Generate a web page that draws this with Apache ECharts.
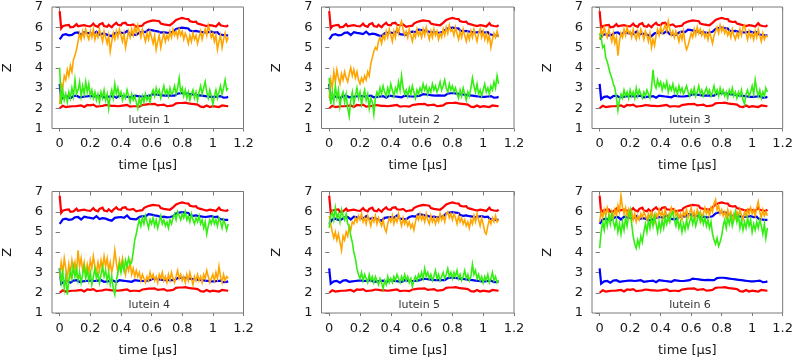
<!DOCTYPE html>
<html>
<head>
<meta charset="utf-8">
<script src="https://cdn.jsdelivr.net/npm/echarts@6/dist/echarts.min.js"></script>
<style>
  html, body { margin: 0; padding: 0; background: #fff; }
  #chart { width: 796px; height: 360px; }
</style>
</head>
<body>
<div id="chart"></div>
<script>
// sampling step of every trace (µs)
const dt = 0.01;
const xTicks = [0, 0.2, 0.4, 0.6, 0.8, 1, 1.2];
const panelNames = ['lutein 1', 'lutein 2', 'lutein 3', 'lutein 4', 'lutein 5', 'lutein 6'];

// reference lines, same in every panel
const redTop = [
  6.8, 5.95, 6.05, 6.0, 6.1, 6.05, 6.12, 6.0, 6.08, 6.02,
  6.1, 6.15, 6.05, 6.12, 6.08, 6.0, 6.1, 6.14, 6.06, 6.1,
  6.04, 6.12, 6.18, 6.08, 6.1, 6.02, 6.14, 6.08, 6.2, 6.06,
  6.1, 6.02, 6.12, 6.06, 6.0, 6.1, 6.16, 6.22, 6.12, 6.18,
  6.1, 6.2, 6.14, 6.22, 6.12, 6.18, 6.1, 6.06, 6.14, 6.08,
  6.02, 6.1, 6.06, 6.14, 6.08, 6.18, 6.22, 6.26, 6.2, 6.3,
  6.26, 6.34, 6.28, 6.32, 6.24, 6.3, 6.18, 6.22, 6.14, 6.2,
  6.12, 6.18, 6.1, 6.16, 6.22, 6.28, 6.36, 6.3, 6.42, 6.36,
  6.46, 6.38, 6.42, 6.34, 6.4, 6.3, 6.36, 6.26, 6.2, 6.28,
  6.18, 6.24, 6.14, 6.2, 6.1, 6.16, 6.06, 6.14, 6.1, 6.18,
  6.08, 6.14, 6.04, 6.12, 6.2, 6.1, 6.16, 6.06, 6.12, 6.04, 6.1
];
const blueTop = [
  5.4, 5.5, 5.62, 5.7, 5.66, 5.72, 5.6, 5.54, 5.62, 5.68,
  5.72, 5.66, 5.74, 5.68, 5.62, 5.7, 5.76, 5.68, 5.72, 5.64,
  5.7, 5.74, 5.66, 5.72, 5.78, 5.7, 5.64, 5.72, 5.68, 5.74,
  5.66, 5.7, 5.6, 5.64, 5.56, 5.62, 5.7, 5.76, 5.72, 5.8,
  5.74, 5.78, 5.7, 5.76, 5.82, 5.74, 5.66, 5.6, 5.64, 5.58,
  5.62, 5.68, 5.74, 5.7, 5.78, 5.82, 5.76, 5.84, 5.88, 5.8,
  5.86, 5.9, 5.82, 5.88, 5.8, 5.84, 5.74, 5.7, 5.76, 5.68,
  5.72, 5.66, 5.74, 5.7, 5.78, 5.86, 5.92, 5.88, 5.96, 5.9,
  5.98, 5.92, 5.96, 5.88, 5.94, 5.84, 5.88, 5.8, 5.76, 5.82,
  5.74, 5.78, 5.7, 5.76, 5.68, 5.74, 5.8, 5.76, 5.84, 5.78,
  5.82, 5.74, 5.7, 5.76, 5.66, 5.7, 5.62, 5.68, 5.6, 5.64, 5.6
];
const redBot = [
  2.0, 2.08, 2.12, 2.1, 2.06, 2.02, 2.08, 2.12, 2.1, 2.14,
  2.1, 2.16, 2.12, 2.08, 2.14, 2.1, 2.06, 2.12, 2.16, 2.1,
  2.14, 2.1, 2.18, 2.12, 2.08, 2.14, 2.1, 2.06, 2.12, 2.1,
  2.16, 2.1, 2.14, 2.08, 2.12, 2.18, 2.12, 2.16, 2.1, 2.14,
  2.12, 2.18, 2.14, 2.1, 2.16, 2.12, 2.08, 2.14, 2.1, 2.06,
  2.1, 2.14, 2.08, 2.12, 2.16, 2.12, 2.18, 2.14, 2.2, 2.16,
  2.2, 2.16, 2.22, 2.18, 2.14, 2.2, 2.16, 2.12, 2.18, 2.14,
  2.1, 2.16, 2.12, 2.18, 2.14, 2.2, 2.24, 2.2, 2.26, 2.22,
  2.26, 2.22, 2.28, 2.2, 2.24, 2.18, 2.22, 2.16, 2.2, 2.14,
  2.18, 2.12, 2.08, 2.12, 2.06, 2.1, 2.14, 2.1, 2.06, 2.12,
  2.1, 2.14, 2.08, 2.12, 2.06, 2.1, 2.14, 2.08, 2.12, 2.06, 2.1
];
const blueBot = [
  3.2, 2.45, 2.5, 2.56, 2.52, 2.58, 2.54, 2.5, 2.56, 2.6,
  2.56, 2.62, 2.58, 2.54, 2.6, 2.56, 2.62, 2.58, 2.64, 2.6,
  2.56, 2.6, 2.64, 2.58, 2.54, 2.6, 2.56, 2.62, 2.58, 2.54,
  2.6, 2.56, 2.62, 2.58, 2.64, 2.6, 2.56, 2.52, 2.58, 2.62,
  2.66, 2.6, 2.64, 2.58, 2.62, 2.56, 2.6, 2.54, 2.58, 2.62,
  2.56, 2.6, 2.54, 2.58, 2.62, 2.58, 2.64, 2.6, 2.66, 2.62,
  2.66, 2.7, 2.64, 2.68, 2.62, 2.66, 2.6, 2.64, 2.58, 2.62,
  2.6, 2.64, 2.58, 2.62, 2.66, 2.62, 2.68, 2.72, 2.68, 2.74,
  2.7, 2.74, 2.68, 2.72, 2.66, 2.7, 2.64, 2.68, 2.62, 2.66,
  2.6, 2.64, 2.58, 2.62, 2.56, 2.6, 2.64, 2.58, 2.62, 2.56,
  2.6, 2.56, 2.62, 2.58, 2.54, 2.6, 2.56, 2.52, 2.58, 2.54, 2.56
];

// lutein end groups, one pair per panel
const orange1 = [
  2.2, 3.2, 3.0, 3.6, 3.4, 3.9, 3.6, 4.1, 3.8, 4.4,
  4.6, 4.9, 5.3, 5.7, 5.4, 5.8, 5.5, 5.9, 5.6, 5.4,
  5.8, 5.5, 5.9, 5.4, 5.7, 5.5, 5.9, 5.6, 5.3, 5.8,
  5.5, 5.2, 5.6, 4.8, 5.3, 5.7, 5.4, 5.8, 5.5, 5.9,
  5.6, 5.3, 5.7, 5.0, 5.4, 5.8, 5.5, 5.9, 5.6, 6.0,
  5.7, 6.1, 5.8, 5.5, 5.9, 5.6, 5.3, 5.7, 5.4, 5.8,
  5.5, 5.2, 5.6, 4.9, 5.3, 5.6, 5.0, 5.4, 5.7, 5.3,
  5.6, 5.4, 5.8, 5.5, 5.9, 5.6, 5.8, 5.5, 5.9, 5.6,
  5.8, 5.4, 5.7, 5.5, 5.2, 5.6, 5.3, 5.7, 5.4, 5.6,
  5.2, 5.5, 5.8, 5.4, 5.7, 5.9, 5.6, 6.1, 5.8, 5.5,
  5.7, 5.3, 5.6, 4.9, 5.3, 5.6, 5.0, 5.4, 5.7, 5.3, 5.5
];
const green1 = [
  4.0, 2.2, 2.9, 2.4, 2.7, 2.3, 2.8, 2.5, 3.0, 2.6,
  3.4, 2.7, 2.9, 3.3, 2.6, 3.1, 2.7, 3.3, 2.8, 3.2,
  2.6, 2.9, 2.5, 2.8, 2.4, 2.7, 2.3, 2.8, 2.5, 2.9,
  2.4, 2.7, 2.0, 2.6, 2.9, 2.5, 3.2, 2.7, 3.0, 2.6,
  2.8, 2.4, 2.7, 2.5, 2.9, 2.6, 2.3, 2.7, 2.4, 2.6,
  2.3, 2.0, 2.5, 2.2, 2.6, 2.3, 2.7, 2.4, 2.6, 2.3,
  2.7, 2.9, 2.6, 3.0, 2.7, 2.9, 2.5, 2.8, 3.1, 2.7,
  2.9, 2.6, 3.0, 2.7, 2.8, 3.1, 2.7, 3.0, 3.5, 2.8,
  3.0, 2.6, 2.9, 2.5, 2.8, 2.4, 2.7, 2.9, 2.5, 2.8,
  2.4, 2.8, 3.1, 2.7, 3.0, 3.3, 2.8, 2.5, 2.9, 2.6,
  2.2, 2.6, 2.9, 2.5, 2.8, 3.1, 2.7, 3.0, 3.4, 2.9, 3.0
];
const orange2 = [
  2.5, 3.4, 3.0, 3.8, 3.3, 3.9, 3.5, 3.2, 3.7, 3.4,
  3.8, 3.5, 3.3, 3.7, 4.0, 3.6, 3.9, 3.5, 3.8, 3.4,
  3.2, 3.5, 3.3, 3.6, 3.4, 3.8, 3.6, 4.2, 4.5, 4.8,
  5.0, 4.9, 5.3, 5.5, 5.2, 5.6, 5.4, 5.8, 5.5, 5.9,
  5.6, 5.3, 5.8, 5.5, 6.0, 5.7, 6.1, 6.3, 5.9, 5.6,
  5.8, 5.5, 5.9, 5.6, 5.3, 5.7, 5.5, 5.9, 5.6, 5.8,
  5.5, 5.9, 5.6, 6.0, 5.7, 5.4, 5.8, 5.5, 5.9, 5.6,
  5.8, 5.4, 5.7, 5.5, 5.9, 5.6, 6.0, 5.7, 6.1, 5.8,
  5.9, 5.6, 6.0, 5.7, 5.4, 5.8, 5.5, 5.9, 5.6, 5.3,
  5.7, 5.4, 5.8, 5.5, 5.9, 5.6, 5.3, 5.7, 5.9, 5.5,
  5.8, 5.4, 5.7, 5.3, 5.6, 5.0, 5.4, 5.7, 5.5, 5.8, 5.5
];
const green2 = [
  3.5, 2.2, 2.8, 2.3, 3.1, 2.5, 2.9, 2.1, 2.6, 2.8,
  2.3, 2.7, 2.0, 1.6, 2.4, 2.8, 2.2, 2.6, 3.0, 2.5,
  2.8, 2.2, 2.6, 2.9, 2.4, 2.7, 2.0, 2.5, 2.3, 1.7,
  2.5, 2.8, 2.6, 3.0, 2.7, 3.1, 2.8, 2.6, 3.0, 2.7,
  3.2, 2.9, 2.6, 3.0, 2.8, 3.3, 2.9, 3.6, 3.0, 2.7,
  2.9, 2.6, 3.0, 2.7, 3.1, 2.8, 2.5, 2.9, 2.7, 3.0,
  2.8, 3.2, 2.9, 3.1, 2.7, 3.0, 2.8, 3.2, 2.9, 3.1,
  2.8, 3.0, 3.3, 2.9, 3.1, 3.4, 3.0, 2.8, 3.2, 2.9,
  3.1, 2.8, 3.0, 2.7, 2.5, 2.9, 2.6, 3.0, 2.7, 2.4,
  2.8, 2.6, 3.0, 3.5, 3.1, 2.8, 3.2, 2.7, 2.9, 2.6,
  2.9, 3.2, 2.8, 3.0, 2.7, 3.1, 2.9, 3.3, 3.0, 3.6, 3.2
];
const orange3 = [
  5.4, 5.9, 5.6, 6.0, 5.7, 5.5, 5.9, 5.6, 5.3, 5.7,
  5.2, 5.5, 4.6, 5.3, 5.7, 5.5, 5.9, 5.6, 6.0, 5.7,
  5.8, 5.5, 5.9, 5.6, 5.4, 5.8, 5.5, 5.9, 5.7, 5.4,
  5.8, 5.6, 5.3, 5.7, 5.0, 5.4, 5.1, 5.6, 5.9, 5.6,
  6.0, 5.7, 5.9, 6.1, 5.8, 6.3, 5.9, 5.6, 5.8, 5.5,
  5.8, 5.6, 5.3, 5.7, 5.4, 5.8, 5.2, 4.9, 5.1, 5.4,
  5.7, 5.5, 5.9, 5.6, 6.0, 5.7, 5.9, 5.6, 5.8, 5.5,
  5.7, 5.4, 5.8, 5.5, 5.2, 5.6, 5.8, 6.0, 5.7, 6.1,
  5.8, 6.0, 5.7, 5.9, 5.6, 5.8, 5.5, 5.9, 5.6, 5.4,
  5.7, 5.5, 5.9, 5.6, 6.0, 6.1, 5.7, 5.4, 5.8, 5.5,
  5.7, 5.4, 5.8, 5.5, 5.9, 5.6, 5.3, 5.7, 5.4, 5.6, 5.5
];
const green3 = [
  5.7, 5.5, 5.0, 5.1, 4.5, 4.3, 4.0, 3.7, 3.5, 3.2,
  3.0, 2.5, 1.9, 2.4, 2.7, 2.5, 2.9, 2.6, 2.8, 2.5,
  2.9, 2.6, 2.8, 2.5, 3.0, 2.6, 2.9, 2.7, 2.5, 2.8,
  2.6, 2.9, 2.7, 2.5, 3.0, 3.9, 3.2, 3.0, 3.4, 3.1,
  3.3, 2.9, 3.2, 3.0, 3.3, 2.8, 3.1, 2.9, 3.2, 2.8,
  3.0, 2.7, 3.1, 2.8, 3.0, 2.7, 2.9, 3.1, 2.8, 2.6,
  2.9, 2.7, 3.0, 2.6, 2.8, 3.1, 2.7, 2.9, 2.6, 2.8,
  3.0, 2.7, 2.9, 2.6, 2.8, 3.1, 2.7, 2.9, 2.6, 3.0,
  2.7, 2.9, 2.6, 2.8, 2.5, 2.9, 2.7, 3.0, 2.6, 2.8,
  2.5, 2.8, 2.6, 2.9, 2.4, 2.2, 2.7, 2.9, 2.6, 2.8,
  3.1, 2.7, 3.4, 2.9, 2.6, 2.9, 2.5, 2.8, 2.6, 3.0, 2.8
];
const orange4 = [
  2.8, 3.5, 3.0, 3.7, 3.2, 2.7, 3.4, 2.9, 3.6, 3.1,
  3.5, 3.0, 4.1, 3.3, 3.7, 3.1, 3.5, 2.9, 3.4, 3.0,
  3.6, 3.2, 3.8, 3.3, 3.0, 3.5, 3.1, 3.6, 3.2, 3.8,
  3.3, 3.7, 3.1, 3.5, 3.0, 3.4, 4.1, 3.5, 3.0, 3.6,
  3.2, 3.7, 3.3, 2.9, 3.4, 3.1, 3.5, 2.9, 3.2, 2.8,
  3.1, 2.8, 3.0, 2.6, 2.9, 2.7, 2.5, 2.8, 2.6, 3.0,
  2.7, 2.9, 2.6, 2.8, 2.5, 2.9, 2.7, 3.0, 2.6, 2.8,
  2.5, 2.9, 2.6, 3.0, 2.7, 2.5, 2.8, 3.1, 2.7, 2.9,
  2.6, 2.8, 2.5, 2.9, 2.6, 3.0, 2.7, 2.4, 2.8, 2.6,
  2.9, 2.6, 2.8, 2.5, 2.9, 2.7, 3.1, 2.8, 2.5, 2.7,
  2.9, 2.6, 3.0, 2.7, 3.3, 2.8, 2.5, 2.9, 2.6, 2.8, 2.7
];
const green4 = [
  3.2, 2.5, 3.0, 2.2, 2.8, 1.9, 2.6, 3.1, 2.7, 3.3,
  2.8, 3.2, 2.6, 3.0, 2.5, 2.9, 3.3, 2.7, 3.1, 2.6,
  3.0, 2.4, 2.8, 3.2, 2.7, 3.0, 2.5, 2.9, 3.3, 2.8,
  3.1, 2.6, 3.0, 2.4, 2.8, 2.2, 1.9, 2.6, 3.0, 3.4,
  3.0, 3.5, 3.1, 3.6, 3.3, 3.7, 3.4, 3.5, 4.0, 4.6,
  4.9, 5.3, 5.6, 5.3, 5.7, 5.4, 5.8, 5.5, 5.2, 5.6,
  5.4, 5.7, 5.3, 5.6, 5.2, 5.5, 5.8, 5.4, 5.6, 5.3,
  5.5, 5.2, 5.6, 5.4, 5.7, 5.9, 5.6, 6.0, 5.8, 5.6,
  5.9, 5.7, 6.0, 5.6, 5.8, 5.5, 5.9, 5.6, 5.4, 5.7,
  5.5, 5.8, 5.4, 5.6, 5.2, 5.5, 4.9, 5.3, 5.6, 5.4,
  5.7, 5.4, 5.6, 5.3, 5.7, 5.5, 5.2, 5.6, 5.4, 5.1, 5.4
];
const orange5 = [
  5.8, 5.4, 5.0, 4.7, 5.0, 4.6, 4.9, 4.5, 4.1, 4.8,
  4.6, 5.0, 4.8, 5.3, 5.1, 5.5, 5.4, 5.7, 5.5, 5.8,
  5.6, 5.9, 5.5, 5.7, 5.4, 5.8, 5.6, 5.3, 5.7, 5.5,
  5.8, 5.4, 5.7, 5.5, 5.3, 5.6, 5.2, 5.0, 5.4, 5.7,
  5.5, 5.8, 5.4, 5.7, 5.5, 5.9, 5.6, 5.3, 5.7, 5.4,
  5.6, 5.3, 5.5, 5.2, 5.4, 5.1, 5.5, 5.8, 5.6, 5.9,
  5.6, 5.8, 5.5, 5.9, 5.6, 5.4, 5.8, 5.5, 5.7, 5.4,
  5.7, 5.5, 5.9, 5.6, 5.8, 5.5, 5.9, 6.0, 5.7, 5.9,
  5.6, 5.9, 5.7, 5.4, 5.8, 5.5, 5.7, 5.4, 5.6, 5.3,
  5.5, 5.2, 5.6, 5.4, 5.8, 5.5, 5.9, 5.6, 5.3, 5.7,
  5.4, 5.0, 4.9, 5.3, 5.6, 5.4, 5.7, 5.5, 5.8, 5.5, 5.6
];
const green5 = [
  5.2, 5.8, 6.0, 5.6, 6.2, 5.7, 5.9, 5.5, 6.1, 5.8,
  5.6, 5.9, 5.4, 5.3, 4.8, 4.5, 4.0, 3.7, 3.2, 2.9,
  2.7, 3.0, 2.6, 2.9, 2.7, 2.5, 2.9, 2.6, 2.8, 2.5,
  2.8, 2.6, 2.4, 2.7, 2.5, 2.2, 2.6, 2.4, 2.8, 2.5,
  2.7, 2.5, 2.8, 2.6, 2.9, 2.7, 2.5, 2.8, 2.6, 2.9,
  2.6, 2.8, 2.5, 2.7, 2.3, 2.6, 2.8, 2.6, 2.9, 2.7,
  3.0, 2.7, 3.2, 2.8, 3.0, 2.7, 2.9, 2.6, 2.8, 3.1,
  2.7, 2.9, 2.6, 2.8, 3.0, 2.7, 2.9, 3.2, 2.8, 3.0,
  2.7, 3.0, 2.8, 3.1, 2.7, 2.9, 2.6, 2.8, 3.1, 2.7,
  2.9, 2.6, 2.8, 3.4, 2.9, 3.1, 2.7, 2.9, 2.6, 2.8,
  2.5, 2.8, 2.6, 2.9, 2.5, 2.7, 3.0, 2.6, 2.8, 2.5, 2.6
];
const orange6 = [
  5.5, 6.0, 5.7, 6.1, 5.8, 6.2, 5.9, 5.6, 6.0, 5.7,
  6.1, 5.8, 6.3, 6.0, 6.8, 6.2, 5.9, 6.2, 5.8, 6.1,
  5.7, 6.0, 5.6, 5.9, 5.5, 5.8, 5.6, 5.9, 5.7, 6.0,
  5.8, 5.6, 5.9, 5.7, 6.0, 5.8, 5.5, 5.9, 5.7, 6.1,
  5.8, 6.0, 5.7, 6.1, 5.8, 5.6, 5.9, 6.2, 5.9, 6.1,
  5.8, 6.0, 5.7, 5.9, 5.6, 6.0, 5.8, 6.1, 5.7, 5.9,
  6.2, 5.8, 6.0, 5.7, 6.1, 5.8, 6.0, 5.6, 5.9, 6.2,
  5.9, 6.1, 5.8, 6.2, 6.0, 6.4, 6.6, 6.1, 6.3, 5.9,
  6.1, 5.8, 6.0, 5.7, 6.1, 5.8, 6.0, 5.6, 5.9, 5.7,
  6.0, 5.7, 6.1, 5.8, 5.6, 6.0, 5.8, 6.1, 5.9, 6.2,
  5.9, 6.1, 5.8, 6.2, 6.5, 6.0, 5.7, 6.1, 5.8, 6.0, 5.8
];
const green6 = [
  4.2, 5.0, 5.5, 5.1, 5.7, 5.3, 5.8, 5.4, 5.9, 5.5,
  5.2, 5.6, 5.0, 5.4, 4.9, 5.5, 5.1, 5.7, 5.3, 5.8,
  6.1, 5.4, 4.8, 4.4, 4.2, 4.6, 4.3, 4.8, 4.5, 5.0,
  5.4, 5.0, 5.6, 5.2, 5.7, 5.3, 5.8, 5.4, 5.0, 5.5,
  5.1, 5.6, 5.2, 5.7, 5.4, 5.8, 5.5, 5.9, 6.0, 5.6,
  5.3, 5.7, 5.2, 5.5, 5.0, 5.4, 5.1, 5.6, 5.2, 5.5,
  5.8, 5.4, 5.7, 5.3, 5.6, 5.9, 5.5, 5.8, 5.4, 5.7,
  5.3, 5.6, 5.2, 5.5, 4.9, 4.6, 4.4, 4.7, 4.3, 4.5,
  4.8, 5.3, 5.6, 5.2, 5.7, 5.4, 5.8, 5.3, 5.6, 6.0,
  5.5, 5.8, 5.2, 5.6, 5.1, 5.5, 5.2, 5.7, 5.3, 5.6,
  5.0, 5.4, 5.1, 5.5, 5.2, 5.6, 5.3, 4.9, 5.4, 4.7, 5.2
];

const oranges = [orange1, orange2, orange3, orange4, orange5, orange6];
const greens = [green1, green2, green3, green4, green5, green6];

const font = 'DejaVu Sans';
const gridLeft = [52, 321.5, 592];
const gridWidth = [191.5, 192.5, 193];
const gridTop = [7, 191.5];
const gridHeight = 121.5;

function pairs(arr) {
  return arr.map((v, i) => [+(i * dt).toFixed(2), v]);
}

const grids = [], xAxes = [], yAxes = [], series = [], graphics = [];

for (let p = 0; p < 6; p++) {
  const col = p % 3, row = Math.floor(p / 3);
  const left = gridLeft[col], width = gridWidth[col], top = gridTop[row];
  grids.push({
    left: left, top: top, width: width, height: gridHeight,
    show: true, borderColor: '#7a7a7a', borderWidth: 1, backgroundColor: 'transparent'
  });
  const xBase = {
    type: 'value', gridIndex: p, min: -0.05, max: 1.2,
    splitLine: { show: false }, axisLine: { show: false }
  };
  // bottom axis with labels, outward ticks
  xAxes.push(Object.assign({}, xBase, {
    position: 'bottom',
    name: 'time [µs]', nameLocation: 'middle', nameGap: 31,
    nameTextStyle: { fontFamily: font, fontSize: 13, color: '#1a1a1a' },
    axisTick: { show: true, length: 3, lineStyle: { color: '#7a7a7a' }, customValues: xTicks },
    axisLabel: { fontFamily: font, fontSize: 13, color: '#1a1a1a', margin: 9, customValues: xTicks }
  }));
  // top mirror ticks
  xAxes.push(Object.assign({}, xBase, {
    position: 'top',
    axisTick: { show: true, inside: true, length: 4, lineStyle: { color: '#7a7a7a' }, customValues: xTicks },
    axisLabel: { show: false }
  }));
  const yBase = {
    type: 'value', gridIndex: p, min: 1, max: 7, interval: 1,
    splitLine: { show: false }, axisLine: { show: false }
  };
  yAxes.push(Object.assign({}, yBase, {
    position: 'left',
    name: 'Z', nameLocation: 'middle', nameGap: 38, nameRotate: 90,
    nameTextStyle: { fontFamily: font, fontSize: 13, color: '#1a1a1a' },
    axisTick: { show: true, length: 3, lineStyle: { color: '#7a7a7a' } },
    axisLabel: { fontFamily: font, fontSize: 13, color: '#1a1a1a', margin: 9 }
  }));
  yAxes.push(Object.assign({}, yBase, {
    position: 'right',
    axisTick: { show: true, inside: true, length: 4, lineStyle: { color: '#7a7a7a' } },
    axisLabel: { show: false }
  }));

  const lines = [
    [redTop, '#ff0000', 2.2],
    [redBot, '#ff0000', 2.2],
    [blueTop, '#0000ff', 2.2],
    [blueBot, '#0000ff', 2.2],
    [oranges[p], '#ffa500', 1.6],
    [greens[p], '#33ee11', 1.6]
  ];
  lines.forEach(([arr, color, w]) => {
    series.push({
      type: 'line', xAxisIndex: 2 * p, yAxisIndex: 2 * p,
      data: pairs(arr), showSymbol: false, silent: true, animation: false,
      lineStyle: { color: color, width: w, join: 'miter' }
    });
  });

  graphics.push({
    type: 'text',
    x: left + width * (0.635 / 1.25), y: top + gridHeight - 8,
    style: {
      text: panelNames[p], font: '11px "DejaVu Sans"', fill: '#333',
      textAlign: 'center', textVerticalAlign: 'middle'
    }
  });
}

const chart = echarts.init(document.getElementById('chart'));
chart.setOption({
  animation: false,
  grid: grids,
  xAxis: xAxes,
  yAxis: yAxes,
  series: series,
  graphic: graphics
});
window.addEventListener('resize', function () {
  chart.resize();
});
</script>
</body>
</html>
